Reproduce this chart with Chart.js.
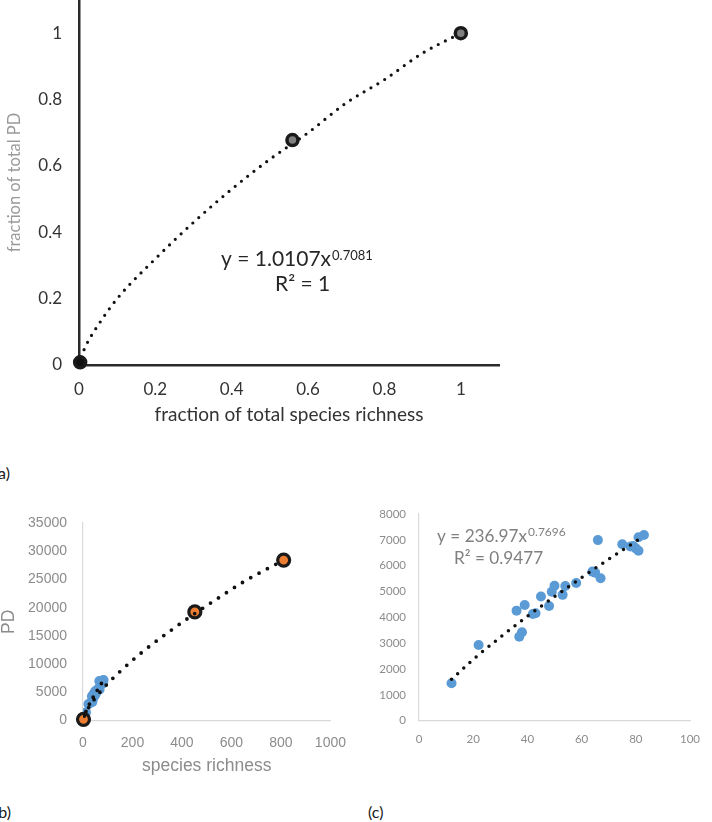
<!DOCTYPE html>
<html>
<head>
<meta charset="utf-8">
<script src="https://cdn.jsdelivr.net/npm/chart.js@4.4.1/dist/chart.umd.min.js"></script>
<style>
body { margin: 0; background: #fff; width: 712px; height: 822px; overflow: hidden; position: relative; }
canvas { position: absolute; }
.lbl { position: absolute; font: 16px Lato; color: #1a1a1a; line-height: 20px; }
</style>
</head>
<body>
<canvas id="ca" width="530" height="474" style="left:0;top:-28px"></canvas>
<canvas id="cb" width="360" height="303" style="left:0;top:497px"></canvas>
<canvas id="cc" width="352" height="282" style="left:360px;top:493px"></canvas>
<div class="lbl" style="left:-6px;top:463px">(a)</div>
<div class="lbl" style="left:-6px;top:802px">(b)</div>
<div class="lbl" style="left:368px;top:802px">(c)</div>
<script>
// (a) fractions of the total
const fracRich = [0.003, 0.559, 1.0];
const fracPD = [0.008, 0.678, 1.0];
const fitAx = [0.005, 0.02, 0.05, 0.1, 0.2, 0.3, 0.4, 0.5, 0.6, 0.7, 0.8, 0.9, 1.0];
const fitAy = [0.024, 0.063, 0.12, 0.2, 0.32, 0.43, 0.53, 0.62, 0.70, 0.79, 0.86, 0.94, 1.0];

// (b) + (c) sites
const richness = [12, 22, 36, 39, 37, 38, 42, 43, 45, 48, 49, 50, 53, 54, 58, 64, 65, 67, 66, 75, 78, 79, 81, 81, 80, 83];
const pd = [1450, 2930, 4260, 4480, 3250, 3420, 4130, 4160, 4810, 4440, 4990, 5220, 4870, 5210, 5330, 5770, 5730, 5510, 6990, 6830, 6740, 6760, 7100, 6580, 6670, 7190];

// (b) totals
const totRich = [2, 452, 811];
const totPD = [200, 19250, 28430];
const fitBx = [5, 10, 40, 80, 150, 250, 350, 450, 550, 650, 811];
const fitBy = [800, 1300, 3400, 5600, 8700, 12500, 15800, 18900, 21800, 24600, 28430];

// (c) trend
const fitCx = [12, 20, 30, 40, 50, 60, 70, 81];
const fitCy = [1600, 2370, 3230, 4040, 4800, 5540, 6250, 7010];

const ticksA = [0, 0.2, 0.4, 0.6, 0.8, 1];

function pts(xs, ys) { return xs.map((x, i) => ({ x: x, y: ys[i] })); }

function dotted(data, w, gap) {
    return {
        data: data, showLine: true, pointRadius: 0, borderColor: '#111',
        borderWidth: w, borderDash: [0, gap], borderCapStyle: 'round',
        cubicInterpolationMode: 'monotone', fill: false
    };
}

function eqLabel(o) {
    return {
        id: 'eq',
        afterDatasetsDraw(chart) {
            const ctx = chart.ctx, a = chart.chartArea;
            ctx.save();
            ctx.fillStyle = o.color;
            ctx.textBaseline = 'alphabetic';
            ctx.font = o.size + 'px Lato';
            const x0 = a.left + o.dx, y0 = a.top + o.dy;
            ctx.fillText(o.main, x0, y0);
            const w = ctx.measureText(o.main).width;
            ctx.font = o.sup + 'px Lato';
            ctx.fillText(o.exp, x0 + w + 1, y0 - o.supUp);
            ctx.font = o.size + 'px Lato';
            ctx.fillText(o.r2, a.left + o.rx, y0 + o.gap);
            ctx.restore();
        }
    };
}

const base = {
    responsive: false, animation: false, events: [],
    plugins: { legend: { display: false }, tooltip: { enabled: false } }
};

const plain = v => String(+Number(v).toFixed(1));

// ---- chart (a)
new Chart(document.getElementById('ca'), {
    type: 'scatter',
    data: {
        datasets: [
            {
                data: pts(fracRich, fracPD), pointRadius: 5.5, pointBorderWidth: 3.5, clip: false,
                pointBackgroundColor: ['#111', '#808080', '#808080'], pointBorderColor: '#1a1a1a'
            },
            dotted(pts(fitAx, fitAy), 3.2, 8)
        ]
    },
    options: Object.assign({}, base, {
        layout: { padding: { top: 28, right: 31, left: 0, bottom: 0 } },
        scales: {
            x: {
                min: 0, max: 1.1,
                afterFit: s => { s.height = 81; },
                afterBuildTicks: s => { s.ticks = ticksA.map(v => ({ value: v })); },
                grid: { display: false, drawTicks: false },
                border: { color: '#2a2a2a', width: 2.5 },
                ticks: { padding: 14, color: '#333', callback: plain, font: { family: 'Lato', size: 17 } },
                title: { display: true, text: 'fraction of total species richness', color: '#333',
                         font: { family: 'Lato', size: 19 }, padding: { top: 0, bottom: 20 } }
            },
            y: {
                min: 0, max: 1.1,
                afterFit: s => { s.width = 79; },
                afterBuildTicks: s => { s.ticks = ticksA.map(v => ({ value: v })); },
                grid: { display: false, drawTicks: false },
                border: { color: '#2a2a2a', width: 2.5 },
                ticks: { padding: 17, color: '#333', callback: plain, font: { family: 'Lato', size: 17 } },
                title: { display: true, text: 'fraction of total PD', color: '#9a9a9a',
                         font: { family: 'Lato', size: 16.5 }, padding: { top: 5, bottom: 0 } }
            }
        }
    }),
    plugins: [eqLabel({ color: '#262626', size: 21, sup: 13, main: 'y = 1.0107x', exp: '0.7081',
                        supUp: 6, r2: 'R² = 1', dx: 142, dy: 266, rx: 196, gap: 24.7 })]
});

// ---- chart (b)
new Chart(document.getElementById('cb'), {
    type: 'scatter',
    data: {
        datasets: [
            dotted(pts(fitBx, fitBy), 3.8, 9.5),
            dotted(pts(fitCx, fitCy), 3.8, 8),
            {
                data: pts(totRich, totPD), pointRadius: 6, pointBorderWidth: 3.2, clip: false,
                pointBackgroundColor: '#ed7d31', pointBorderColor: '#1a1a1a'
            },
            { data: pts(richness, pd), pointRadius: 5, pointBorderWidth: 0, pointBackgroundColor: '#5b9bd5' }
        ]
    },
    options: Object.assign({}, base, {
        layout: { padding: { top: 26, right: 27, left: 0, bottom: 0 } },
        scales: {
            x: {
                min: 0, max: 1000,
                afterFit: s => { s.height = 79.5; },
                grid: { display: false, drawTicks: false },
                border: { color: '#d9d9d9', width: 1.2 },
                ticks: { stepSize: 200, padding: 14, color: '#8c8c8c', callback: v => String(v),
                         font: { family: 'Liberation Sans', size: 14 } },
                title: { display: true, text: 'species richness', color: '#8c8c8c',
                         font: { family: 'Liberation Sans', size: 17.5 }, padding: { top: 0, bottom: 23 } }
            },
            y: {
                min: 0, max: 35000,
                afterFit: s => { s.width = 83; },
                grid: { display: false, drawTicks: false },
                border: { color: '#d9d9d9', width: 1.2 },
                ticks: { stepSize: 5000, padding: 16, color: '#8c8c8c', callback: v => String(v),
                         font: { family: 'Liberation Sans', size: 14 } },
                title: { display: true, text: 'PD', color: '#8c8c8c',
                         font: { family: 'Liberation Sans', size: 17.5, lineHeight: 1 }, padding: { top: 0, bottom: 0 } }
            }
        }
    })
});

// ---- chart (c)
new Chart(document.getElementById('cc'), {
    type: 'scatter',
    data: {
        datasets: [
            dotted(pts(fitCx, fitCy), 3.5, 8.3),
            { data: pts(richness, pd), pointRadius: 5, pointBorderWidth: 0, pointBackgroundColor: '#5b9bd5' }
        ]
    },
    options: Object.assign({}, base, {
        layout: { padding: { top: 21, right: 22, left: 0, bottom: 0 } },
        scales: {
            x: {
                min: 0, max: 100,
                afterFit: s => { s.height = 54.3; },
                grid: { display: false, drawTicks: false },
                border: { color: '#d9d9d9', width: 1.2 },
                ticks: { stepSize: 20, padding: 11.5, color: '#8c8c8c', font: { family: 'Lato', size: 11.5 } }
            },
            y: {
                min: 0, max: 8000,
                afterFit: s => { s.width = 59; },
                grid: { display: false, drawTicks: false },
                border: { color: '#d9d9d9', width: 1.2 },
                ticks: { stepSize: 1000, padding: 13, color: '#8c8c8c', callback: v => String(v),
                         font: { family: 'Lato', size: 11.5 } }
            }
        }
    }),
    plugins: [eqLabel({ color: '#808080', size: 17.2, sup: 12, main: 'y = 236.97x', exp: '0.7696',
                        supUp: 5.5, r2: 'R² = 0.9477', dx: 18, dy: 27.7, rx: 35, gap: 22.3 })]
});
</script>
</body>
</html>
